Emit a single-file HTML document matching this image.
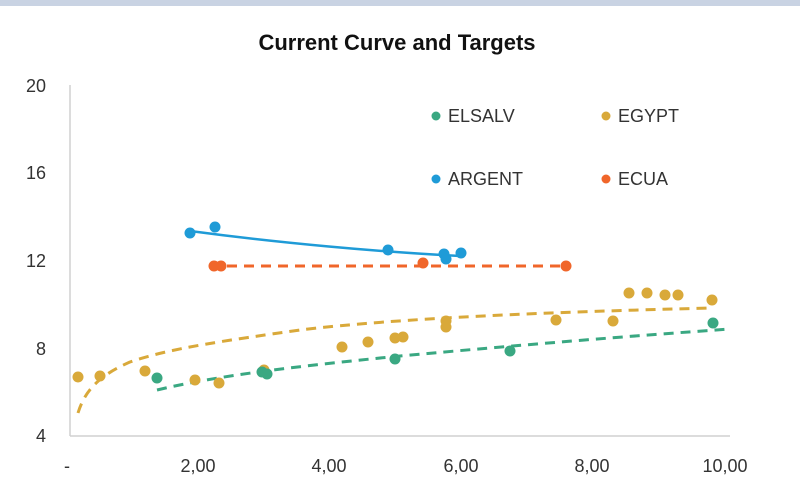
<!DOCTYPE html>
<html><head><meta charset="utf-8"><style>
body{margin:0;background:#fff;}
svg{display:block;font-family:"Liberation Sans",sans-serif;}
</style></head><body>
<svg width="800" height="491" viewBox="0 0 800 491">
<rect x="0" y="0" width="800" height="6" fill="#c9d3e3"/>
<text x="397" y="50" text-anchor="middle" font-size="22" font-weight="bold" fill="#111">Current Curve and Targets</text>
<line x1="70" y1="85" x2="70" y2="436" stroke="#d0d0d0" stroke-width="1.5"/>
<line x1="70" y1="436" x2="730" y2="436" stroke="#d0d0d0" stroke-width="1.5"/>
<g font-size="18" fill="#333" text-anchor="end">
<text x="46" y="92">20</text><text x="46" y="179">16</text><text x="46" y="267">12</text><text x="46" y="355">8</text><text x="46" y="442">4</text>
</g>
<g font-size="18" fill="#333" text-anchor="middle">
<text x="67" y="472">-</text><text x="198" y="472">2,00</text><text x="329" y="472">4,00</text><text x="461" y="472">6,00</text><text x="592" y="472">8,00</text><text x="725" y="472">10,00</text>
</g>
<!-- legend -->
<g font-size="18" fill="#333">
<circle cx="436" cy="116" r="4.5" fill="#3aa882"/><text x="448" y="122">ELSALV</text>
<circle cx="606" cy="116" r="4.5" fill="#d9a93a"/><text x="618" y="122">EGYPT</text>
<circle cx="436" cy="179" r="4.5" fill="#1f9bd7"/><text x="448" y="185">ARGENT</text>
<circle cx="606" cy="179" r="4.5" fill="#f0662a"/><text x="618" y="185">ECUA</text>
</g>
<!-- trend lines -->
<path d="M78,413 C85,390 100,375 130,362 C170,348 230,340 300,330 C400,318 550,312 712,308" fill="none" stroke="#d9a93a" stroke-width="3" stroke-dasharray="10,7"/>
<path d="M157,390 C220,375 300,366 400,356 C520,345 630,336 730,329" fill="none" stroke="#3aa882" stroke-width="3" stroke-dasharray="10,7"/>
<path d="M190,231 C280,243 380,252 460,256" fill="none" stroke="#1f9bd7" stroke-width="2.5"/>
<line x1="210" y1="266" x2="570" y2="266" stroke="#f0662a" stroke-width="3" stroke-dasharray="10,7"/>
<!-- points -->
<g fill="#d9a93a">
<circle cx="78" cy="377" r="5.5"/><circle cx="100" cy="376" r="5.5"/><circle cx="145" cy="371" r="5.5"/><circle cx="195" cy="380" r="5.5"/><circle cx="219" cy="383" r="5.5"/><circle cx="264" cy="370" r="5.5"/><circle cx="342" cy="347" r="5.5"/><circle cx="368" cy="342" r="5.5"/><circle cx="395" cy="338" r="5.5"/><circle cx="403" cy="337" r="5.5"/><circle cx="446" cy="327" r="5.5"/><circle cx="446" cy="321" r="5.5"/><circle cx="556" cy="320" r="5.5"/><circle cx="613" cy="321" r="5.5"/><circle cx="629" cy="293" r="5.5"/><circle cx="647" cy="293" r="5.5"/><circle cx="665" cy="295" r="5.5"/><circle cx="678" cy="295" r="5.5"/><circle cx="712" cy="300" r="5.5"/>
</g>
<g fill="#3aa882">
<circle cx="157" cy="378" r="5.5"/><circle cx="262" cy="372" r="5.5"/><circle cx="267" cy="374" r="5.5"/><circle cx="395" cy="359" r="5.5"/><circle cx="510" cy="351" r="5.5"/><circle cx="713" cy="323" r="5.5"/>
</g>
<g fill="#1f9bd7">
<circle cx="190" cy="233" r="5.5"/><circle cx="215" cy="227" r="5.5"/><circle cx="388" cy="250" r="5.5"/><circle cx="444" cy="254" r="5.5"/><circle cx="446" cy="259" r="5.5"/><circle cx="461" cy="253" r="5.5"/>
</g>
<g fill="#f0662a">
<circle cx="214" cy="266" r="5.5"/><circle cx="221" cy="266" r="5.5"/><circle cx="423" cy="263" r="5.5"/><circle cx="566" cy="266" r="5.5"/>
</g>
</svg>
</body></html>
